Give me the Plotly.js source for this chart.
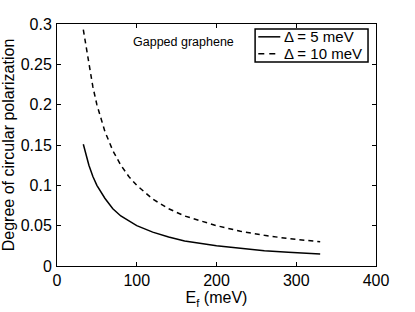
<!DOCTYPE html>
<html>
<head>
<meta charset="utf-8">
<script src="https://cdn.plot.ly/plotly-3.0.1.min.js"></script>
<style>html,body{margin:0;padding:0;background:#fff;}#chart{width:415px;height:312px;}</style>
</head>
<body>
<div id="chart"></div>
<script>
// Fermi energy (meV)
const energy = [33, 40, 45, 50, 60, 70, 80, 90, 100, 120, 140, 160, 180, 200, 230, 260, 290, 330];
// Degree of circular polarization, gap 5 meV
const pol5 = [0.151, 0.125, 0.111, 0.100, 0.084, 0.071, 0.062, 0.056, 0.050, 0.042, 0.036, 0.031, 0.028, 0.025, 0.022, 0.019, 0.017, 0.015];
// Degree of circular polarization, gap 10 meV
const pol10 = [0.293, 0.250, 0.222, 0.200, 0.167, 0.143, 0.125, 0.111, 0.100, 0.083, 0.071, 0.062, 0.056, 0.050, 0.043, 0.038, 0.034, 0.030];
const seriesNames = ['Δ = 5 meV', 'Δ = 10 meV'];
const xTicks = [0, 100, 200, 300, 400];
const yTicks = [0, 0.05, 0.1, 0.15, 0.2, 0.25, 0.3];

const font = {family: 'Liberation Sans, Arial, Helvetica, sans-serif', color: '#000'};
const dashes = ['solid', '5px,4px'];

const traces = [
  {x: energy, y: pol5, name: seriesNames[0], mode: 'lines', line: {color: '#000', width: 1.5, dash: dashes[0]}},
  {x: energy, y: pol10, name: seriesNames[1], mode: 'lines', line: {color: '#000', width: 1.5, dash: dashes[1]}}
];

const axisCommon = {
  showline: true, linecolor: '#000', linewidth: 1, mirror: 'ticks',
  ticks: 'inside', ticklen: 4, tickcolor: '#000', tickwidth: 1,
  showgrid: false, zeroline: false,
  tickfont: Object.assign({size: 16}, font)
};

// Compact legend box (paper coordinates), matching the reference's short line samples
const legBox = {x0: 0.621, x1: 0.975, y0: 0.843, y1: 0.979};
const legRows = [0.947, 0.877];
const shapes = [{
  type: 'rect', xref: 'paper', yref: 'paper',
  x0: legBox.x0, x1: legBox.x1, y0: legBox.y0, y1: legBox.y1,
  line: {color: '#000', width: 1.5}, fillcolor: '#fff', layer: 'above'
}];
const annotations = [{
  x: 159, y: 0.278, xref: 'x', yref: 'y', text: 'Gapped graphene', showarrow: false,
  font: Object.assign({size: 12.5}, font)
}];
seriesNames.forEach((name, i) => {
  shapes.push({
    type: 'line', xref: 'paper', yref: 'paper',
    x0: 0.631, x1: 0.700, y0: legRows[i], y1: legRows[i],
    line: {color: '#000', width: 1.5, dash: i === 0 ? 'solid' : '6px,5px'}, layer: 'above'
  });
  annotations.push({
    x: 0.704, y: legRows[i], xref: 'paper', yref: 'paper', xanchor: 'left', yanchor: 'middle',
    text: name, showarrow: false, font: Object.assign({size: 15}, font)
  });
});

const layout = {
  width: 415, height: 312,
  margin: {l: 57, r: 39, t: 24, b: 46},
  paper_bgcolor: '#fff', plot_bgcolor: '#fff',
  font: font,
  showlegend: false,
  xaxis: Object.assign({}, axisCommon, {
    range: [0, 400], tickvals: xTicks, ticklabelstandoff: 0,
    title: {text: 'E<sub>f</sub> (meV)', font: Object.assign({size: 16}, font), standoff: 0}
  }),
  yaxis: Object.assign({}, axisCommon, {
    range: [0, 0.3], tickvals: yTicks, ticklabelstandoff: 1,
    title: {text: 'Degree of circular polarization', font: Object.assign({size: 16}, font), standoff: 2}
  }),
  shapes: shapes,
  annotations: annotations
};

Plotly.newPlot('chart', traces, layout, {displayModeBar: false, staticPlot: true});
</script>
</body>
</html>
